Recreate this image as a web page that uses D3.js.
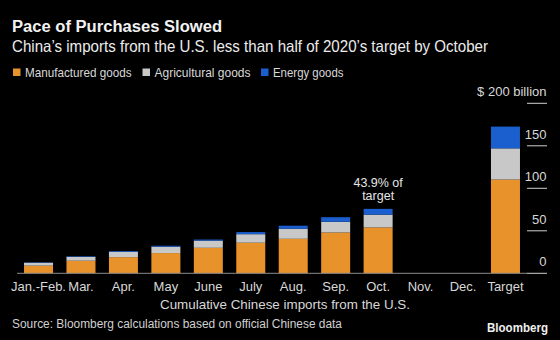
<!DOCTYPE html>
<html>
<head>
<meta charset="utf-8">
<script src="https://cdn.jsdelivr.net/npm/d3@7"></script>
<style>
  body { margin: 0; background: #000; }
  svg { display: block; }
  text { font-family: "Liberation Sans Narrow", "Liberation Sans", Arial, sans-serif; fill: #e2e2e2; }
</style>
</head>
<body>
<div class="chart"></div>
<script>
// months of 2020 plus the full year target, $bn cumulative
var categories = ["Jan.-Feb.", "Mar.", "Apr.", "May", "June", "July", "Aug.", "Sep.", "Oct.", "Nov.", "Dec.", "Target"];
var manufactured = [9.0, 14.8, 19.0, 23.8, 30.0, 36.0, 40.6, 48.0, 54.0, 0, 0, 110.3];
var agricultural = [3.4, 4.5, 6.3, 7.5, 8.4, 10.0, 11.8, 12.6, 15.0, 0, 0, 36.7];
var energy = [0.5, 0.7, 0.9, 1.1, 1.3, 2.5, 3.6, 5.4, 6.8, 0, 0, 25.6];
var seriesNames = ["Manufactured goods", "Agricultural goods", "Energy goods"];
var yTicks = [0, 50, 100, 150, 200];

var colors = ["#e8922b", "#c8c8c8", "#1a5fcd"];

var width = 560, height = 340;

var svg = d3.select(".chart").append("svg")
  .attr("width", width)
  .attr("height", height);

svg.append("rect").attr("width", width).attr("height", height).attr("fill", "#000");

// squeeze text into the width it has in the picture
function fit(sel, w) {
  var n = sel.node();
  var real = n.getComputedTextLength();
  if (Math.abs(real - w) > 2) {
    sel.attr("textLength", w).attr("lengthAdjust", "spacingAndGlyphs");
  }
  return sel;
}

// titles
fit(svg.append("text").attr("x", 12).attr("y", 32)
  .style("font-family", '"Liberation Sans", Arial, sans-serif')
  .style("font-weight", "bold").style("font-size", "16px").style("fill", "#f2f2f2")
  .text("Pace of Purchases Slowed"), 210);

fit(svg.append("text").attr("x", 12).attr("y", 52)
  .style("font-size", "16.5px").style("fill", "#ececec")
  .text("China\u2019s imports from the U.S. less than half of 2020\u2019s target by October"), 476);

// legend
var legendX = [13, 142.5, 261];
var legendW = [106.5, 96, 70.5];
seriesNames.forEach(function(name, i) {
  svg.append("rect")
    .attr("x", legendX[i]).attr("y", 68.5)
    .attr("width", 7.5).attr("height", 7.5)
    .attr("fill", colors[i]);
  fit(svg.append("text")
    .attr("x", legendX[i] + 12).attr("y", 76.5)
    .style("font-size", "13px").style("fill", "#d8d8d8")
    .text(name), legendW[i]);
});

// scales
var x = d3.scaleBand()
  .domain(categories)
  .range([17.3, 526.7])
  .paddingInner(0.317)
  .paddingOuter(0.1585);

var y = d3.scaleLinear()
  .domain([0, 200])
  .range([273.3, 103.3]);

var table = categories.map(function(c, i) {
  return { cat: c, m: manufactured[i], a: agricultural[i], e: energy[i] };
});

var stack = d3.stack().keys(["m", "a", "e"]);
var layers = stack(table);

svg.append("g").selectAll("g")
  .data(layers)
  .enter().append("g")
  .attr("fill", function(d, i) { return colors[i]; })
  .selectAll("rect")
  .data(function(d) { return d; })
  .enter().append("rect")
  .attr("x", function(d) { return x(d.data.cat); })
  .attr("y", function(d) { return y(d[1]); })
  .attr("width", x.bandwidth())
  .attr("height", function(d) { return Math.max(0, y(d[0]) - y(d[1])); });

// baseline
svg.append("line")
  .attr("x1", 17).attr("x2", 527)
  .attr("y1", y(0)).attr("y2", y(0))
  .attr("stroke", "#8a8a8a").attr("stroke-width", 1);

// right axis, ticks sit under their labels
var yAxis = svg.append("g");
yAxis.selectAll("line")
  .data(yTicks)
  .enter().append("line")
  .attr("x1", 527).attr("x2", 547)
  .attr("y1", function(d) { return y(d); })
  .attr("y2", function(d) { return y(d); })
  .attr("stroke", "#cfcfcf").attr("stroke-width", 1);

yAxis.selectAll("text")
  .data(yTicks)
  .enter().append("text")
  .attr("x", 546.5)
  .attr("y", function(d) { return y(d) - 7; })
  .attr("text-anchor", "end")
  .style("font-size", "13px").style("fill", "#d8d8d8")
  .text(function(d) { return d == 200 ? "$ 200 billion" : d; });

// x labels
var xLabels = svg.append("g").selectAll("text")
  .data(categories)
  .enter().append("text")
  .attr("x", function(d) { return x(d) + x.bandwidth() / 2; })
  .attr("y", 290.5)
  .attr("text-anchor", "middle")
  .style("font-size", "13px").style("fill", "#d8d8d8")
  .text(function(d) { return d; });
fit(xLabels.filter(function(d) { return d == "Jan.-Feb."; }), 53);

fit(svg.append("text")
  .attr("x", 285).attr("y", 308.5)
  .attr("text-anchor", "middle")
  .style("font-size", "13.5px").style("fill", "#d8d8d8")
  .text("Cumulative Chinese imports from the U.S."), 250);

// annotation over October
var oct = table[8];
var octTop = y(oct.m + oct.a + oct.e);
svg.append("text")
  .attr("x", x("Oct.") + x.bandwidth() / 2)
  .attr("y", octTop - 22)
  .attr("text-anchor", "middle")
  .style("font-size", "12.5px").style("fill", "#e6e6e6")
  .text("43.9% of");
svg.append("text")
  .attr("x", x("Oct.") + x.bandwidth() / 2)
  .attr("y", octTop - 8.5)
  .attr("text-anchor", "middle")
  .style("font-size", "12.5px").style("fill", "#e6e6e6")
  .text("target");

// footer
fit(svg.append("text").attr("x", 12).attr("y", 328)
  .style("font-size", "12.5px").style("fill", "#d0d0d0")
  .text("Source: Bloomberg calculations based on official Chinese data"), 330);

fit(svg.append("text").attr("x", 548).attr("y", 332)
  .attr("text-anchor", "end")
  .style("font-family", '"Liberation Sans", Arial, sans-serif')
  .style("font-weight", "bold").style("font-size", "12px").style("fill", "#f0f0f0")
  .text("Bloomberg"), 61);
</script>
</body>
</html>
